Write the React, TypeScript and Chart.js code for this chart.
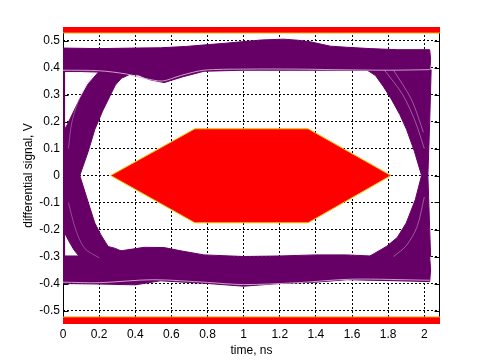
import React, { useEffect, useRef } from "react";
import { Chart, registerables } from "chart.js";

Chart.register(...registerables);

// ---- axes ----
const X_MIN = 0;
const X_MAX = 2.087;
const Y_MIN = -0.55;
const Y_MAX = 0.55;
const X_TICKS = [0, 0.2, 0.4, 0.6, 0.8, 1, 1.2, 1.4, 1.6, 1.8, 2];
const X_TICK_LABELS = ["0", "0.2", "0.4", "0.6", "0.8", "1", "1.2", "1.4", "1.6", "1.8", "2"];
const Y_TICKS = [-0.5, -0.4, -0.3, -0.2, -0.1, 0, 0.1, 0.2, 0.3, 0.4, 0.5];
const Y_TICK_LABELS = ["-0.5", "-0.4", "-0.3", "-0.2", "-0.1", "0", "0.1", "0.2", "0.3", "0.4", "0.5"];
const X_TITLE = "time, ns";
const Y_TITLE = "differential signal, V";

// ---- eye diagram envelopes (x in ns, y in V) ----
const TOP_BAND: [number, number][] = [
  [0, 0.472], [0.2, 0.47], [0.4, 0.472], [0.54, 0.473], [0.68, 0.478], [0.81, 0.485],
  [0.9, 0.49], [1.0, 0.496], [1.1, 0.502], [1.22, 0.505], [1.3, 0.501], [1.37, 0.495],
  [1.48, 0.479], [1.57, 0.475], [1.7, 0.47], [1.85, 0.466], [2.03, 0.466],
  [2.035, 0.43], [2.03, 0.386],
  [1.85, 0.386], [1.7, 0.39], [1.46, 0.39], [1.2, 0.39], [1.0, 0.39], [0.78, 0.386],
  [0.66, 0.365], [0.56, 0.344], [0.48, 0.355], [0.42, 0.372], [0.3, 0.38], [0.2, 0.383],
  [0.1, 0.385], [0, 0.385],
];

const BOTTOM_BAND: [number, number][] = [
  [0, -0.298], [0.1, -0.298], [0.2, -0.29], [0.33, -0.278], [0.45, -0.266], [0.56, -0.267],
  [0.66, -0.28], [0.78, -0.294], [1.0, -0.3], [1.2, -0.298], [1.4, -0.294], [1.57, -0.294],
  [1.7, -0.298], [2.03, -0.3],
  [2.035, -0.35], [2.03, -0.393],
  [1.85, -0.39], [1.57, -0.386], [1.4, -0.395], [1.2, -0.4], [1.0, -0.41], [0.8, -0.4],
  [0.54, -0.39], [0.4, -0.405], [0.2, -0.402], [0, -0.4],
];

const LEFT_TRANSITION: [number, number][] = [
  [0.2, 0.386], [0.14, 0.34], [0.09, 0.28], [0.05, 0.225], [0.025, 0.19], [0, 0.16],
  [0, -0.2], [0.03, -0.24], [0.06, -0.275], [0.09, -0.3], [0.2, -0.3], [0.34, -0.285],
  [0.29, -0.27], [0.25, -0.263], [0.21, -0.22], [0.176, -0.176], [0.14, -0.1],
  [0.093, 0], [0.14, 0.09], [0.176, 0.17], [0.22, 0.24], [0.259, 0.293], [0.29, 0.335],
  [0.323, 0.36], [0.38, 0.378], [0.36, 0.386],
];

const RIGHT_TRANSITION: [number, number][] = [
  [1.68, 0.392], [1.73, 0.37], [1.773, 0.33], [1.82, 0.28], [1.865, 0.225], [1.902, 0.17],
  [1.945, 0.09], [1.985, 0], [1.95, -0.09], [1.9, -0.176], [1.85, -0.23], [1.79, -0.263],
  [1.7, -0.298], [2.035, -0.3], [2.03, -0.2], [2.02, 0], [2.03, 0.2], [2.038, 0.392],
];

// ---- edge traces along x = 0 ----
const EDGE_UPPER: [number, number][] = [[0.006, 0.385], [0.006, 0.16]];
const EDGE_LOWER: [number, number][] = [[0.006, -0.2], [0.006, -0.3]];

// ---- light stray traces inside the bundles ----
const TRACE_A: [number, number][] = [
  [0, 0.39], [0.2, 0.388], [0.35, 0.376], [0.45, 0.36], [0.55, 0.35], [0.65, 0.37],
  [0.78, 0.39], [1.0, 0.394], [1.3, 0.394], [1.5, 0.392], [1.8, 0.39], [2.03, 0.392],
];
const TRACE_B: [number, number][] = [
  [0, -0.395], [0.2, -0.397], [0.5, -0.386], [0.8, -0.396], [1.0, -0.404], [1.3, -0.397],
  [1.6, -0.384], [2.03, -0.388],
];
const TRACE_C: [number, number][] = [[1.78, 0.39], [1.88, 0.3], [1.95, 0.2], [2.0, 0.1]];
const TRACE_D: [number, number][] = [[1.83, 0.39], [1.93, 0.28], [1.995, 0.16]];
const TRACE_E: [number, number][] = [[2.0, -0.08], [1.96, -0.19], [1.9, -0.26], [1.83, -0.3]];
const TRACE_F: [number, number][] = [[0.17, 0.38], [0.1, 0.3], [0.05, 0.2], [0.03, 0.1]];
const TRACE_G: [number, number][] = [[0.03, -0.1], [0.07, -0.2], [0.12, -0.27], [0.2, -0.305]];

// ---- mask (hexagon) and limit bands ----
const MASK: [number, number][] = [
  [0.264, 0], [0.73, 0.173], [1.357, 0.173], [1.815, 0], [1.357, -0.175], [0.73, -0.175], [0.264, 0],
];
const LIMIT_TOP: [number, number][] = [[-0.2, 0.528], [2.3, 0.528], [2.3, 0.6], [-0.2, 0.6]];
const LIMIT_BOTTOM: [number, number][] = [[-0.2, -0.524], [2.3, -0.524], [2.3, -0.6], [-0.2, -0.6]];

const PURPLE = "#660066";
const FONT = "'Liberation Sans', Arial, Helvetica, sans-serif";

const pts = (a: [number, number][]) => a.map(([x, y]) => ({ x, y }));

const shape = (a: [number, number][], fillColor: string, border: string, bw: number) => ({
  data: pts(a),
  showLine: true,
  fill: "shape",
  backgroundColor: fillColor,
  borderColor: border,
  borderWidth: bw,
  pointRadius: 0,
  tension: 0,
  clip: 0,
});

const trace = (a: [number, number][], color: string, bw: number) => ({
  data: pts(a),
  showLine: true,
  fill: false,
  borderColor: color,
  borderWidth: bw,
  pointRadius: 0,
  tension: 0.3,
  clip: 0,
});

const framePlugin = {
  id: "frame",
  beforeDatasetsDraw(chart: any) {
    const { ctx, chartArea: a, scales } = chart;
    ctx.save();
    ctx.strokeStyle = "#000";
    ctx.lineWidth = 1;
    ctx.setLineDash([]);
    ctx.beginPath();
    const L = Math.round(a.left) + 0.5;
    const R = Math.round(a.right) - 0.5;
    const T = Math.round(a.top) + 0.5;
    const B = Math.round(a.bottom) - 0.5;
    ctx.moveTo(L, a.top);
    ctx.lineTo(L, a.bottom);
    ctx.moveTo(R, a.top);
    ctx.lineTo(R, a.bottom);
    ctx.moveTo(a.left, B);
    ctx.lineTo(a.right, B);
    for (const v of Y_TICKS) {
      const y = Math.round(scales.y.getPixelForValue(v)) + 0.5;
      ctx.moveTo(L, y);
      ctx.lineTo(L + 5, y);
      ctx.moveTo(R, y);
      ctx.lineTo(R - 5, y);
    }
    for (const v of X_TICKS) {
      const x = Math.round(scales.x.getPixelForValue(v)) + 0.5;
      ctx.moveTo(x, B);
      ctx.lineTo(x, B - 5);
      ctx.moveTo(x, T);
      ctx.lineTo(x, T + 5);
    }
    ctx.stroke();
    ctx.restore();
  },
};

export default function App() {
  const ref = useRef<HTMLCanvasElement | null>(null);

  useEffect(() => {
    document.body.style.margin = "0";
    const canvas = ref.current;
    if (!canvas) return;
    const chart = new Chart(canvas, {
      type: "scatter",
      data: {
        datasets: [
          shape(MASK, "#ff0000", "#f2c200", 1),
          shape(LIMIT_TOP, "#ff0000", "#f5a000", 1),
          shape(LIMIT_BOTTOM, "#ff0000", "#f5a000", 1),
          trace(TRACE_A, "rgba(215,175,215,0.9)", 1),
          trace(TRACE_B, "rgba(215,175,215,0.9)", 1),
          trace(TRACE_C, "rgba(255,255,255,0.45)", 0.8),
          trace(TRACE_D, "rgba(255,255,255,0.45)", 0.8),
          trace(TRACE_E, "rgba(255,255,255,0.45)", 0.8),
          trace(TRACE_F, "rgba(220,180,220,0.5)", 0.8),
          trace(TRACE_G, "rgba(220,180,220,0.5)", 0.8),
          trace(EDGE_UPPER, PURPLE, 2),
          trace(EDGE_LOWER, PURPLE, 2),
          shape(TOP_BAND, PURPLE, PURPLE, 1),
          shape(BOTTOM_BAND, PURPLE, PURPLE, 1),
          shape(LEFT_TRANSITION, PURPLE, PURPLE, 1),
          shape(RIGHT_TRANSITION, PURPLE, PURPLE, 1),
        ] as any,
      },
      options: {
        animation: false,
        responsive: false,
        events: [],
        layout: { padding: { top: 27, right: 46, left: 0, bottom: 0 } },
        plugins: { legend: { display: false }, tooltip: { enabled: false } },
        scales: {
          x: {
            type: "linear",
            min: X_MIN,
            max: X_MAX,
            afterFit: (s: any) => {
              s.height = 40;
            },
            afterBuildTicks: (s: any) => {
              s.ticks = X_TICKS.map((v) => ({ value: v }));
            },
            ticks: {
              padding: 3,
              color: "#000",
              maxRotation: 0,
              autoSkip: false,
              font: { family: FONT, size: 12 },
              callback: (v: any) => {
                const i = X_TICKS.findIndex((t) => Math.abs(t - Number(v)) < 1e-9);
                return i >= 0 ? X_TICK_LABELS[i] : "";
              },
            },
            grid: { color: "#000", lineWidth: 1, drawTicks: false },
            border: { display: false, dash: [2, 2] },
            title: {
              display: true,
              text: X_TITLE,
              color: "#000",
              font: { family: FONT, size: 12 },
              padding: { top: 0, bottom: 6 },
            },
          },
          y: {
            type: "linear",
            min: Y_MIN,
            max: Y_MAX,
            afterFit: (s: any) => {
              s.width = 63;
            },
            afterBuildTicks: (s: any) => {
              s.ticks = Y_TICKS.map((v) => ({ value: v }));
            },
            ticks: {
              padding: 3,
              color: "#000",
              autoSkip: false,
              font: { family: FONT, size: 12 },
              callback: (v: any) => {
                const i = Y_TICKS.findIndex((t) => Math.abs(t - Number(v)) < 1e-9);
                return i >= 0 ? Y_TICK_LABELS[i] : "";
              },
            },
            grid: { color: "#000", lineWidth: 1, drawTicks: false },
            border: { display: false, dash: [2, 2] },
            title: {
              display: true,
              text: Y_TITLE,
              color: "#000",
              font: { family: FONT, size: 12 },
              padding: { top: 21, bottom: 0 },
            },
          },
        },
      },
      plugins: [framePlugin],
    } as any);
    return () => chart.destroy();
  }, []);

  return (
    <div style={{ position: "absolute", left: 0, top: 0, width: 486, height: 364, background: "#fff" }}>
      <canvas ref={ref} width={486} height={364} style={{ width: 486, height: 364, display: "block" }} />
    </div>
  );
}
